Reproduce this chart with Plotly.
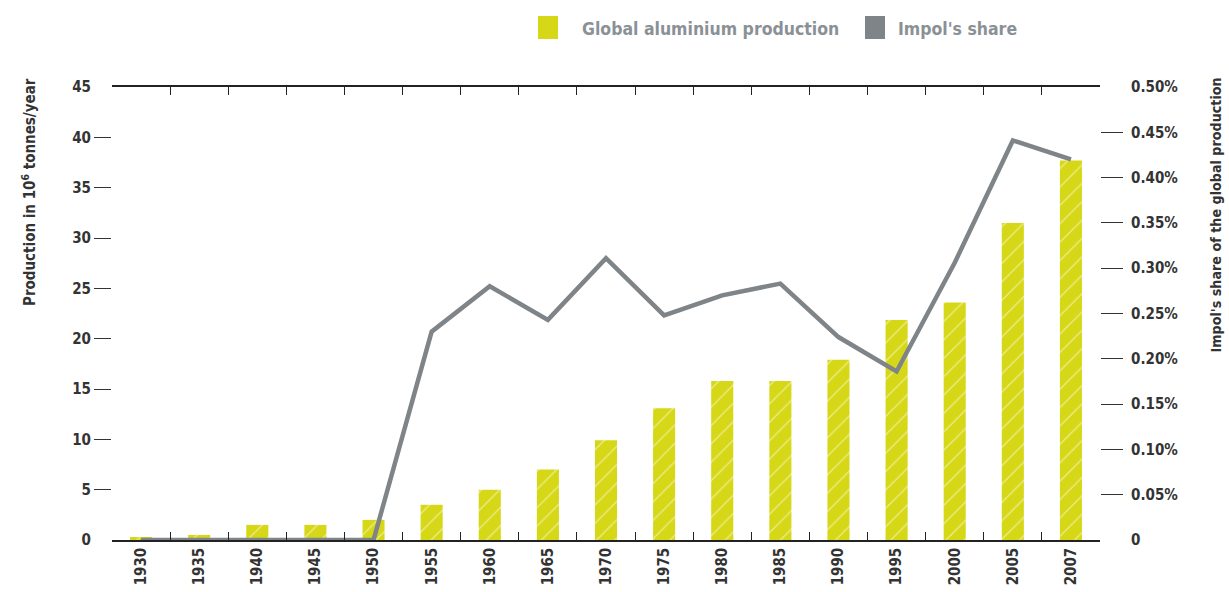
import plotly.graph_objects as go

years = ["1930", "1935", "1940", "1945", "1950", "1955", "1960", "1965", "1970",
         "1975", "1980", "1985", "1990", "1995", "2000", "2005", "2007"]
production = [0.3, 0.5, 1.5, 1.5, 2.0, 3.5, 5.0, 7.0, 9.9,
              13.1, 15.8, 15.8, 17.9, 21.85, 23.6, 31.5, 37.7]
share = [0.0, 0.0, 0.0, 0.0, 0.0, 0.23, 0.28, 0.243, 0.311,
         0.248, 0.27, 0.283, 0.224, 0.186, 0.306, 0.441, 0.42]

left_ticks = [0, 5, 10, 15, 20, 25, 30, 35, 40, 45]
right_ticks = [0, 0.05, 0.10, 0.15, 0.20, 0.25, 0.30, 0.35, 0.40, 0.45, 0.50]
right_text = ["0", "0.05%", "0.10%", "0.15%", "0.20%", "0.25%", "0.30%",
              "0.35%", "0.40%", "0.45%", "0.50%"]

BAR = "#d6d817"
LINE = "#7e8487"
TXT = "#333333"
LEG = "#8a9196"
FONT = "DejaVu Sans Condensed"

W, H = 1229, 592
L, R, T, B = 112, 1100, 87, 540


def px(x):
    return (x - L) / (R - L)


def py(y):
    return (B - y) / (B - T)


fig = go.Figure()
fig.add_trace(go.Bar(
    x=years, y=production, width=0.38, yaxis="y",
    marker=dict(color=BAR, line=dict(width=0),
                pattern=dict(shape="/", fgcolor="white", bgcolor=BAR, size=13, solidity=0.1)),
    showlegend=False,
))
fig.add_trace(go.Scatter(
    x=years, y=share, yaxis="y2", mode="lines",
    line=dict(color=LINE, width=4.5), cliponaxis=False, showlegend=False,
))

tickfont = dict(family=FONT, size=15, color=TXT, weight="bold")

fig.update_layout(
    width=W, height=H,
    margin=dict(l=L, r=W - R, t=T, b=H - B),
    paper_bgcolor="white", plot_bgcolor="white",
    font=dict(family=FONT, color=TXT),
    xaxis=dict(
        type="category", range=[-0.5, len(years) - 0.5], automargin=False,
        tickangle=-90, ticks="inside", tickson="boundaries", ticklen=8,
        tickcolor="#222", tickwidth=1.2,
        showline=True, linecolor="#222", linewidth=1.5, mirror="ticks",
        showgrid=False, tickfont=tickfont,
    ),
    yaxis=dict(
        range=[0, 45], tickvals=left_ticks, ticks="outside", ticklen=17, automargin=False,
        tickcolor="rgba(0,0,0,0)", showgrid=False, zeroline=False, showline=False,
        tickfont=tickfont,
    ),
    yaxis2=dict(
        range=[0, 0.5], tickvals=right_ticks, ticktext=right_text, overlaying="y",
        side="right", ticks="outside", ticklen=27, tickcolor="rgba(0,0,0,0)", automargin=False,
        showgrid=False, zeroline=False, showline=False, tickfont=tickfont,
    ),
    yaxis3=dict(
        range=[0, 45], tickvals=left_ticks[1:-1], ticks="outside", ticklen=17, automargin=False,
        tickcolor="#333", tickwidth=1.3, overlaying="y", side="left",
        showticklabels=False, showgrid=False, zeroline=False, showline=False,
    ),
    yaxis4=dict(
        range=[0, 0.5], tickvals=right_ticks[1:-1], overlaying="y", side="right",
        ticks="outside", ticklen=22, tickcolor="#333", tickwidth=1.3, automargin=False,
        showticklabels=False, showgrid=False, zeroline=False, showline=False,
    ),
)

# dummy traces to activate tick-only axes
fig.add_trace(go.Scatter(x=[years[0]], y=[None], yaxis="y3", showlegend=False, hoverinfo="skip"))
fig.add_trace(go.Scatter(x=[years[0]], y=[None], yaxis="y4", showlegend=False, hoverinfo="skip"))

# axis titles
fig.add_annotation(text="Production in 10<sup>6</sup> tonnes/year", textangle=-90,
                   xref="paper", yref="paper", x=px(29), y=py(76),
                   xanchor="center", yanchor="top", showarrow=False,
                   font=dict(family=FONT, size=15, color=TXT, weight="bold"))
fig.add_annotation(text="Impol's share of the global production", textangle=-90,
                   xref="paper", yref="paper", x=px(1215), y=py(76),
                   xanchor="center", yanchor="top", showarrow=False,
                   font=dict(family=FONT, size=14.2, color=TXT, weight="bold"))

# legend
fig.add_shape(type="rect", xref="paper", yref="paper",
              x0=px(538), x1=px(558), y0=py(39), y1=py(16),
              fillcolor=BAR, line=dict(width=0))
fig.add_annotation(text="Global aluminium production", xref="paper", yref="paper",
                   x=px(580), y=py(29), xanchor="left", yanchor="middle", showarrow=False,
                   font=dict(family=FONT, size=17.5, color=LEG, weight="bold"))
fig.add_shape(type="rect", xref="paper", yref="paper",
              x0=px(865), x1=px(885), y0=py(39), y1=py(16),
              fillcolor=LINE, line=dict(width=0))
fig.add_annotation(text="Impol's share", xref="paper", yref="paper",
                   x=px(896), y=py(29), xanchor="left", yanchor="middle", showarrow=False,
                   font=dict(family=FONT, size=17.5, color=LEG, weight="bold"))

fig.write_html("out.html")
